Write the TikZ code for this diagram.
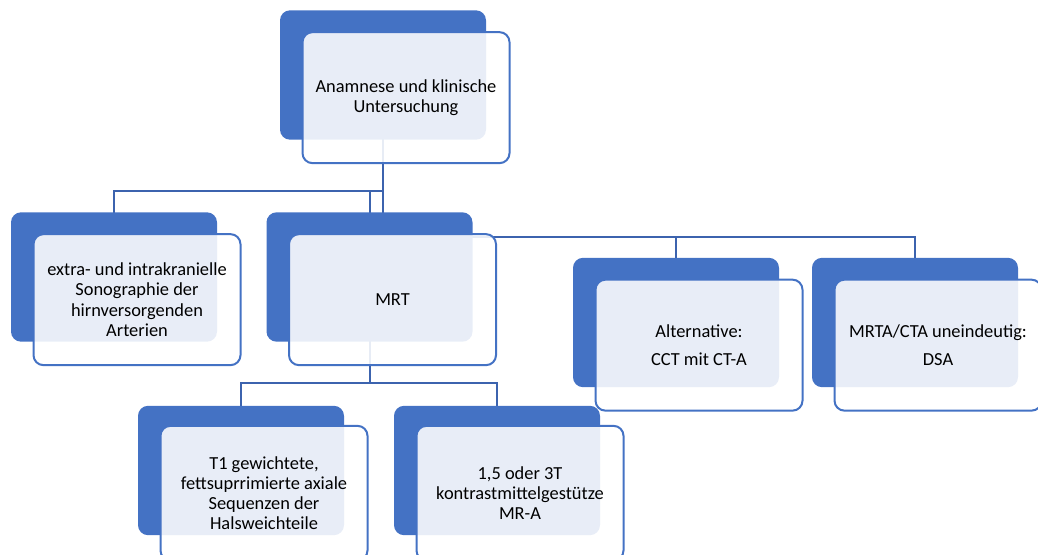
\documentclass[tikz,border=0pt]{standalone}
\usepackage{fontspec}
\setmainfont{Carlito}
\definecolor{cblue}{HTML}{4472C4}
\definecolor{lblue}{HTML}{3C63AE}
\begin{document}
\begin{tikzpicture}[x=0.75pt,y=-0.75pt,
  back/.style={rectangle, rounded corners=7.5pt, fill=cblue, minimum width=154.5pt, minimum height=97pt, inner sep=0pt},
  front/.style={rectangle, rounded corners=7.5pt, fill=white, fill opacity=0.88, text opacity=1, draw=cblue, line width=1.5pt, minimum width=155.25pt, minimum height=98.25pt, inner sep=2pt, align=center, font=\fontsize{13.8}{15.2}\selectfont},
  lowfront/.style={front, minimum height=101pt},
  conn/.style={draw=lblue, line width=1.5pt}]
\useasboundingbox (0,0) rectangle (1038,555);
\path (383,75) coordinate (topc) (114,277) coordinate (leftc) (369.5,277) coordinate (mrtc)
      (676,322.5) coordinate (altc) (915,322.5) coordinate (dsac)
      (241,470.5) coordinate (t1c) (497,470.5) coordinate (mrc);
\coordinate (bus1) at (0,191);
\coordinate (bus2) at (0,237);
\coordinate (bus3) at (0,383);
% connectors
\draw[conn] (topc) -- (topc |- bus1) -| (leftc);
\draw[conn] (topc |- bus1) -| (mrtc);
\draw[conn] (topc) -- (topc |- bus2) -| (altc);
\draw[conn] (topc |- bus2) -| (dsac);
\draw[conn] (mrtc) -- (mrtc |- bus3) -| (t1c);
\draw[conn] (mrtc |- bus3) -| (mrc);
% back boxes
\node[back] (topB) at (topc) {};
\node[back] (leftB) at (leftc) {};
\node[back] (mrtB) at (mrtc) {};
\node[back] (altB) at (altc) {};
\node[back] (dsaB) at (dsac) {};
\node[back] (t1B) at (t1c) {};
\node[back] (mrB) at (mrc) {};
% front boxes
\node[front] (topF) at ([xshift=17.25pt,yshift=-17pt]topB.center) {Anamnese und klinische\\Untersuchung};
\node[front] (leftF) at ([xshift=17.25pt,yshift=-17pt]leftB.center) {extra- und intrakranielle\\Sonographie der\\hirnversorgenden\\Arterien};
\node[front] (mrtF) at ([xshift=17.25pt,yshift=-17pt]mrtB.center) {MRT};
\node[front] (altF) at ([xshift=17.25pt,yshift=-17pt]altB.center) {Alternative:\\[5.5pt]CCT mit CT-A};
\node[front] (dsaF) at ([xshift=17.25pt,yshift=-17pt]dsaB.center) {MRTA/CTA uneindeutig:\\[5.5pt]DSA};
\node[lowfront] (t1F) at ([xshift=17.25pt,yshift=-17pt]t1B.center) {T1 gewichtete,\\fettsuprrimierte axiale\\Sequenzen der\\Halsweichteile};
\node[lowfront] (mrF) at ([xshift=17.25pt,yshift=-17pt]mrB.center) {1,5 oder 3T\\kontrastmittelgestütze\\MR-A};
\end{tikzpicture}
\end{document}
